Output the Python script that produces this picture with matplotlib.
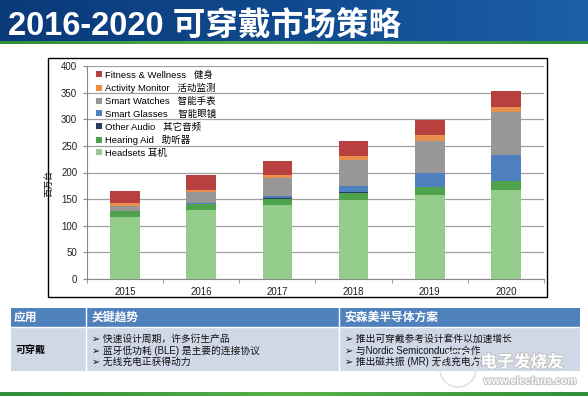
import matplotlib
matplotlib.use('Agg')
import matplotlib.pyplot as plt
import numpy as np
from matplotlib.patches import Rectangle, Circle
from matplotlib.colors import LinearSegmentedColormap
import matplotlib.patheffects as pe

plt.rcParams['font.family'] = ['Liberation Sans', 'Noto Sans CJK SC', 'DejaVu Sans']

# ---------------- data ----------------
years = ['2015', '2016', '2017', '2018', '2019', '2020']
series_labels = ['Headsets 耳机', 'Hearing Aid   助听器', 'Other Audio   其它音频',
                 'Smart Glasses    智能眼镜', 'Smart Watches   智能手表',
                 'Activity Monitor   活动监测', 'Fitness & Wellness   健身']
headsets = [116, 129, 139, 148, 158, 167]
hearing_aid = [11, 12, 12, 14, 15, 17]
other_audio = [0.5, 0.5, 0.5, 0.5, 0.5, 0.5]
smart_glasses = [0.5, 1, 4, 13, 26, 49]
smart_watches = [10, 20, 34, 48, 60, 80]
activity_monitor = [4, 5, 6, 7, 10, 10]
fitness = [24, 27, 27, 28, 29, 30]
series_colors = ['#93cc8b', '#4ea24a', '#2b3b62', '#4e7fbe', '#979797', '#e68f4e', '#b8413f']

title = '2016-2020 可穿戴市场策略'
ylabel = '百万台'
table_headers = ['应用', '关键趋势', '安森美半导体方案']
table_row_label = '可穿戴'
trends = ['快速设计周期，许多衍生产品', '蓝牙低功耗 (BLE) 是主要的连接协议', '无线充电正获得动力']
solutions = ['推出可穿戴参考设计套件以加速增长', '与Nordic Semiconductor合作', '推出磁共振 (MR) 无线充电方案']

W, H = 588, 397
fig = plt.figure(figsize=(W / 100, H / 100), dpi=100)

# background / decoration axes in pixel coordinates
bg = fig.add_axes([0, 0, 1, 1])
bg.set_xlim(0, W)
bg.set_ylim(H, 0)
bg.axis('off')

# title bar gradient
cmap = LinearSegmentedColormap.from_list('tb', ['#0a3a7a', '#104a8e', '#1c5fa8'])
grad = np.linspace(0, 1, 256).reshape(1, -1)
bg.imshow(grad, extent=[0, W, 42, 0], aspect='auto', cmap=cmap, zorder=0)
gcmap = LinearSegmentedColormap.from_list('gl', ['#2f8f3a', '#5bb04a', '#2f8f3a'])
bg.imshow(grad, extent=[0, W, 44.5, 42], aspect='auto', cmap=gcmap, zorder=0)
bg.imshow(grad, extent=[0, W, 396, 392], aspect='auto', cmap=gcmap, zorder=0)
bg.text(8, 36, title, color='white', fontsize=23.5, fontweight='bold', va='baseline', ha='left')

# chart frame
bg.add_patch(Rectangle((48, 58), 499, 239, facecolor='white', edgecolor='black', lw=1.0))

# table
tx = [11, 86, 339, 580]
bg.add_patch(Rectangle((11, 308), 569, 19, facecolor='#4f81bd', edgecolor='none'))
bg.add_patch(Rectangle((11, 327), 569, 44, facecolor='#d0d8e8', edgecolor='none'))
for xv in tx[1:3]:
    bg.plot([xv, xv], [308, 371], color='white', lw=1.0)
bg.plot([11, 580], [327, 327], color='white', lw=1.0)
hx = [14, 92, 344]
for x, t in zip(hx, table_headers):
    bg.text(x, 318, t, color='white', fontsize=8.5, fontweight='bold', va='center', ha='left')
bg.text(16, 350, table_row_label, color='black', fontsize=7.2, fontweight='bold', va='center', ha='left')
ly = [339, 351, 362]
for y, t in zip(ly, trends):
    bg.text(92, y, '➢ ' + t, color='#111111', fontsize=7, va='center', ha='left')
for y, t in zip(ly, solutions):
    bg.text(345, y, '➢ ' + t, color='#111111', fontsize=7, va='center', ha='left')

# watermark
bg.add_patch(Circle((458, 369), 18, facecolor='none', edgecolor='#e2e2e2', lw=1.2, zorder=5))
wm_fx = [pe.withStroke(linewidth=1.4, foreground='#c4c4c4')]
bg.text(522, 362, '电子发烧友', color='white', fontsize=12, fontweight='bold', style='italic',
        va='center', ha='center', path_effects=wm_fx, zorder=6)
bg.text(530, 381, 'www.elecfans.com', color='white', fontsize=7.5, fontweight='bold',
        va='center', ha='center', path_effects=wm_fx, zorder=6)

# ---------------- chart ----------------
ax = fig.add_axes([87 / W, 1 - 279 / H, 457 / W, 213 / H])
ax.set_facecolor('none')
x = np.arange(len(years))
stack = [headsets, hearing_aid, other_audio, smart_glasses, smart_watches, activity_monitor, fitness]
bottom = np.zeros(len(years))
handles = []
for vals, lab, col in zip(stack, series_labels, series_colors):
    b = ax.bar(x, vals, bottom=bottom, width=0.39, color=col, label=lab, zorder=3)
    handles.append(b)
    bottom += np.array(vals)

ax.set_xlim(-0.5, len(years) - 0.5)
ax.set_ylim(0, 400)
ax.set_yticks(np.arange(0, 401, 50))
ax.set_xticks(x)
ax.set_xticklabels(years)
ax.set_xticks(np.arange(-0.5, len(years)), minor=True)
ax.tick_params(axis='x', which='major', length=0, labelsize=7, pad=6, colors='#222222')
ax.tick_params(axis='x', which='minor', length=3, color='#888888')
ax.tick_params(axis='y', length=3, color='#888888', labelsize=7, colors='#222222', pad=4)
ax.yaxis.grid(True, color='#a0a0a0', lw=0.9, zorder=0)
for s in ['top', 'right']:
    ax.spines[s].set_visible(False)
for s in ['left', 'bottom']:
    ax.spines[s].set_color('#888888')
    ax.spines[s].set_linewidth(0.8)
ax.set_ylabel(ylabel, fontsize=6.5)
ax.yaxis.set_label_coords(-0.074, 0.45)

leg = ax.legend(handles[::-1], series_labels[::-1], loc='upper left', bbox_to_anchor=(0.02, 0.98),
                frameon=False, fontsize=6.8, handlelength=0.6, handleheight=0.6, handletextpad=0.3,
                labelspacing=0.38, borderpad=0, borderaxespad=0)

fig.savefig('out.png', dpi=100)
